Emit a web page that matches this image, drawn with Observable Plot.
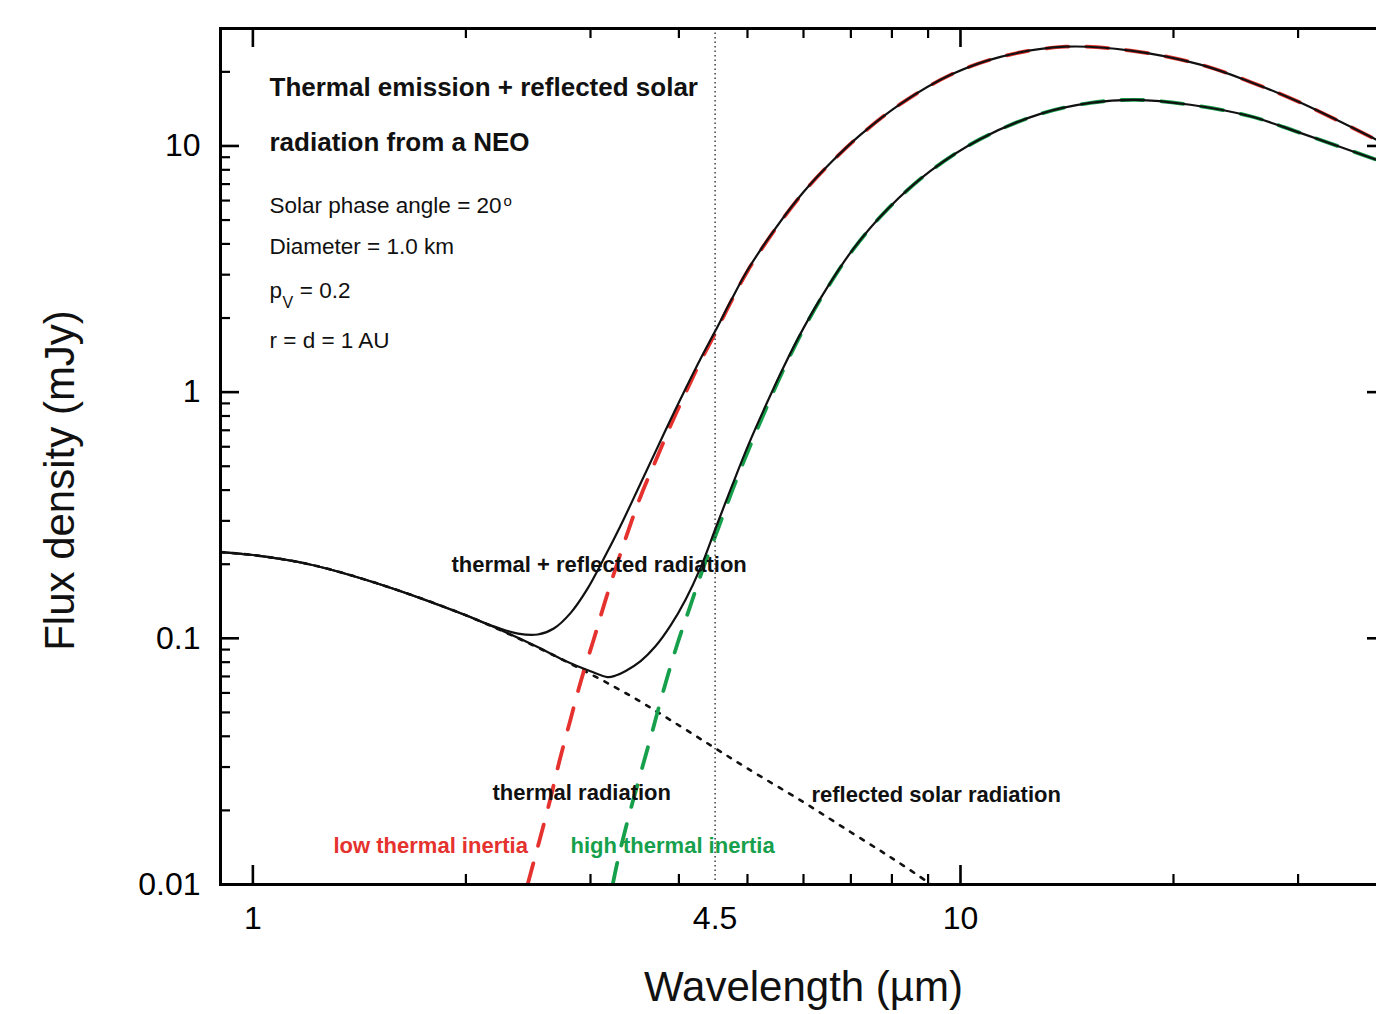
<!DOCTYPE html>
<html><head><meta charset="utf-8">
<script src="https://cdn.jsdelivr.net/npm/d3@7"></script>
<script src="https://cdn.jsdelivr.net/npm/@observablehq/plot@0.6"></script>
<style>
html,body{margin:0;padding:0;background:#fff;overflow:hidden;width:1376px;height:1014px}
#chart{width:1376px;height:1014px;overflow:hidden;position:relative}
#chart svg{display:block;max-width:none !important;height:1014px !important}
</style></head><body><div id="chart"></div>
<script>
// ---- data (wavelength in µm, flux density in mJy) ----
const reflWl = [0.9, 1.0, 1.2, 1.5, 2.0, 2.5, 3.0, 3.5, 4.0, 4.5, 5, 6, 7, 8, 9, 9.3];
const reflF  = [0.224, 0.218, 0.200, 0.167, 0.124, 0.0931, 0.0716, 0.0561, 0.0443, 0.0358, 0.0296, 0.0216, 0.0163, 0.0128, 0.0102, 0.0095];

const lowWl = [2.445, 2.53, 2.63, 2.71, 2.81, 2.91, 3.03, 3.15, 3.34, 3.53, 3.72, 3.89, 4.1, 4.29, 4.5, 4.73, 5.0, 5.48, 6.0, 6.55, 7.22, 8.23, 9.68, 11.39, 14.07, 17.39, 21.83, 25.68, 30.21, 40];
const lowF  = [0.0100, 0.0144, 0.0220, 0.0315, 0.0466, 0.0676, 0.0984, 0.143, 0.240, 0.376, 0.537, 0.728, 1.012, 1.332, 1.73, 2.306, 3.10, 4.61, 6.48, 8.51, 11.07, 14.82, 19.44, 23.0, 25.3, 24.4, 21.4, 18.2, 15.0, 10.1];

const highWl = [3.225, 3.278, 3.386, 3.532, 3.649, 3.806, 3.984, 4.156, 4.335, 4.538, 4.764, 5.019, 5.304, 5.623, 6.0, 6.47, 7.06, 7.89, 9.07, 10.67, 12.97, 15.26, 17.67, 21.13, 25.68, 30.21, 40];
const highF  = [0.0100, 0.0125, 0.0182, 0.0283, 0.0396, 0.0617, 0.0957, 0.1367, 0.195, 0.276, 0.402, 0.585, 0.849, 1.237, 1.80, 2.62, 3.81, 5.54, 7.91, 10.67, 13.5, 14.96, 15.4, 14.7, 13.2, 11.3, 8.5];

const totLowWl = [0.9, 1.0, 1.2, 1.5, 2.0, 2.15, 2.37, 2.527, 2.662, 2.813, 2.973, 3.132, 3.311, 3.532, 3.721, 3.894, 4.102, 4.294, 4.5, 4.733, 5.0, 5.48, 6.0, 6.55, 7.22, 8.23, 9.68, 11.39, 14.07, 17.39, 21.83, 25.68, 30.21, 40];
const totLowF  = [0.224, 0.218, 0.200, 0.167, 0.124, 0.114, 0.1045, 0.1036, 0.1096, 0.1269, 0.1595, 0.2103, 0.2879, 0.4268, 0.587, 0.774, 1.054, 1.371, 1.766, 2.339, 3.127, 4.637, 6.50, 8.53, 11.09, 14.83, 19.45, 23.02, 25.3, 24.4, 21.4, 18.2, 15.0, 10.1];

const totHighWl = [0.9, 1.0, 1.2, 1.5, 2.0, 2.5, 2.75, 3.0, 3.172, 3.256, 3.364, 3.532, 3.709, 3.894, 4.089, 4.294, 4.508, 4.76, 5.02, 5.30, 5.62, 6.0, 6.47, 7.06, 7.89, 9.07, 10.67, 12.97, 15.26, 17.67, 21.13, 25.68, 30.21, 40];
const totHighF  = [0.224, 0.218, 0.200, 0.167, 0.124, 0.0935, 0.0815, 0.0735, 0.0696, 0.0706, 0.0737, 0.0808, 0.0930, 0.1128, 0.1439, 0.1942, 0.280, 0.42, 0.615, 0.876, 1.26, 1.82, 2.64, 3.83, 5.55, 7.92, 10.68, 13.5, 14.96, 15.4, 14.7, 13.2, 11.3, 8.5];

const markerWl = [4.5];
const xTickLabels = [1, 4.5, 10];
const yTickLabels = [0.01, 0.1, 1, 10];
const xMajor = [1, 10];
const xMinor = [2, 3, 4, 5, 6, 7, 8, 9, 20, 30];
const yMajor = [0.01, 0.1, 1, 10];
const yMinor = [0.02,0.03,0.04,0.05,0.06,0.07,0.08,0.09,0.2,0.3,0.4,0.5,0.6,0.7,0.8,0.9,2,3,4,5,6,7,8,9,20];

const xTitle = "Wavelength (\u00b5m)";
const yTitle = "Flux density (mJy)";
const titleLines = ["Thermal emission + reflected solar", "radiation from a NEO"];
const infoLines = ["Solar phase angle = 20", "Diameter = 1.0 km", "p", "r = d = 1 AU"];
const notes = ["thermal + reflected radiation", "thermal radiation", "reflected solar radiation", "low thermal inertia", "high thermal inertia"];

// ---- build ----
const rows = (w, f) => w.map((d, i) => ({wl: d, f: f[i]}));
const W = 1400, H = 1014, ML = 220, MR = 14, MT = 28, MB = 130;
const PW = W - ML - MR, PH = H - MT - MB;
const font = "'Liberation Sans', Arial, Helvetica, sans-serif";
const RED = "#e5322e", GREEN = "#16a04c";

const tx = (text, o) => Plot.text([text], {text: d => d, frameAnchor: "top-left", textAnchor: "start", lineAnchor: "bottom", fontFamily: font, fill: "#111", ...o});

const plot = Plot.plot({
  width: W, height: H,
  marginLeft: ML, marginRight: MR, marginTop: MT, marginBottom: MB,
  x: {type: "log", domain: [0.9, 40]},
  y: {type: "log", domain: [0.01, 30]},
  style: {fontFamily: font, background: "white", color: "black", maxWidth: "none"},
  marks: [
    Plot.line(rows(reflWl, reflF), {x: "wl", y: "f", stroke: "#111", strokeWidth: 2.6, strokeDasharray: "4,8", curve: "catmull-rom", clip: true}),
    Plot.line(rows(lowWl, lowF), {x: "wl", y: "f", stroke: RED, strokeWidth: 3.8, strokeDasharray: "22,18", curve: "catmull-rom", clip: true}),
    Plot.line(rows(highWl, highF), {x: "wl", y: "f", stroke: GREEN, strokeWidth: 3.8, strokeDasharray: "22,18", curve: "catmull-rom", clip: true}),
    Plot.line(rows(totLowWl, totLowF), {x: "wl", y: "f", stroke: "#111", strokeWidth: 2.2, curve: "catmull-rom", clip: true}),
    Plot.line(rows(totHighWl, totHighF), {x: "wl", y: "f", stroke: "#111", strokeWidth: 2.2, curve: "catmull-rom", clip: true}),
    Plot.ruleX(markerWl, {stroke: "#222", strokeWidth: 1.3, strokeDasharray: "1.5,3"}),
    // ticks (inward)
    Plot.ruleX(xMajor, {insetTop: PH - 19, strokeWidth: 2.6, stroke: "black"}),
    Plot.ruleX(xMajor, {insetBottom: PH - 19, strokeWidth: 2.6, stroke: "black"}),
    Plot.ruleX(xMinor, {insetTop: PH - 10, strokeWidth: 2.2, stroke: "black"}),
    Plot.ruleX(xMinor, {insetBottom: PH - 10, strokeWidth: 2.2, stroke: "black"}),
    Plot.ruleY(yMajor, {insetRight: PW - 19, strokeWidth: 2.6, stroke: "black"}),
    Plot.ruleY(yMajor, {insetLeft: PW - 19, strokeWidth: 2.6, stroke: "black"}),
    Plot.ruleY(yMinor, {insetRight: PW - 10, strokeWidth: 2.2, stroke: "black"}),
    Plot.ruleY(yMinor, {insetLeft: PW - 10, strokeWidth: 2.2, stroke: "black"}),
    Plot.frame({stroke: "black", strokeWidth: 3}),
    Plot.axisX({ticks: xTickLabels, tickSize: 0, tickPadding: 22, fontSize: 32, tickFormat: d => String(d), label: null}),
    Plot.axisY({ticks: yTickLabels, tickSize: 0, tickPadding: 20, fontSize: 32, tickFormat: d => String(d), label: null}),
    Plot.text([xTitle], {text: d => d, frameAnchor: "bottom", textAnchor: "middle", lineAnchor: "middle", dy: 103, fontSize: 42, fontFamily: font, fill: "#111"}),
    Plot.text([yTitle], {text: d => d, frameAnchor: "left", textAnchor: "middle", lineAnchor: "middle", rotate: -90, dx: -160, dy: 24, fontSize: 42, fontFamily: font, fill: "#111"}),
    // info block
    tx(titleLines[0], {dx: 49, dy: 67, fontSize: 26, fontWeight: "bold"}),
    tx(titleLines[1], {dx: 49, dy: 122, fontSize: 26, fontWeight: "bold"}),
    tx(infoLines[0], {dx: 49, dy: 184, fontSize: 22.5}),
    tx("o", {dx: 283, dy: 177, fontSize: 15}),
    tx(infoLines[1], {dx: 49, dy: 225, fontSize: 22.5}),
    tx(infoLines[2], {dx: 49, dy: 269, fontSize: 22.5}),
    tx("V", {dx: 62, dy: 279, fontSize: 16}),
    tx(" = 0.2", {dx: 73, dy: 269, fontSize: 22.5}),
    tx(infoLines[3], {dx: 49, dy: 319, fontSize: 22.5}),
    // curve notes
    tx(notes[0], {dx: 231, dy: 543, fontSize: 22, fontWeight: "bold"}),
    tx(notes[1], {dx: 272, dy: 771, fontSize: 22, fontWeight: "bold"}),
    tx(notes[2], {dx: 591, dy: 773, fontSize: 22, fontWeight: "bold"}),
    tx(notes[3], {dx: 113, dy: 824, fontSize: 22, fontWeight: "bold", fill: RED}),
    tx(notes[4], {dx: 350, dy: 824, fontSize: 22, fontWeight: "bold", fill: GREEN})
  ]
});
document.getElementById("chart").appendChild(plot);
</script></body></html>
